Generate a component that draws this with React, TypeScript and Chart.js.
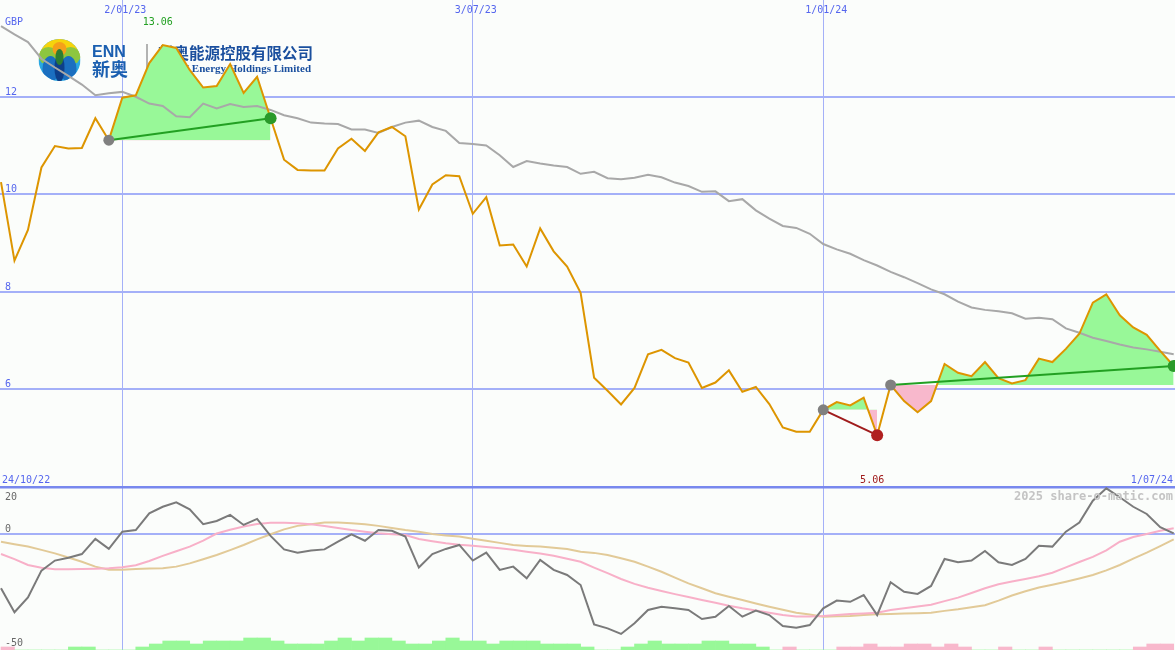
import React, { useEffect, useRef } from 'react';
import { Chart, registerables } from 'chart.js';

Chart.register(...registerables);

// ---------- data (weekly points, index 0 = first week) ----------
const PRICE = [
  10.25, 8.64, 9.27, 10.55, 10.99, 10.94, 10.95, 11.56, 11.11, 11.98,
  12.03, 12.69, 13.06, 13.0, 12.55, 12.19, 12.22, 12.67, 12.08, 12.41,
  11.56, 10.71, 10.5, 10.49, 10.49, 10.94, 11.14, 10.89, 11.27, 11.38,
  11.19, 9.69, 10.2, 10.39, 10.37, 9.6, 9.94, 8.95, 8.97, 8.52,
  9.3, 8.83, 8.52, 7.98, 6.24, 5.97, 5.69, 6.03, 6.72, 6.81,
  6.64, 6.55, 6.03, 6.14, 6.39, 5.95, 6.05, 5.7, 5.22, 5.13,
  5.13, 5.58, 5.74, 5.67, 5.83, 5.06, 6.09, 5.76, 5.53, 5.76,
  6.52, 6.34, 6.27, 6.56, 6.23, 6.12, 6.19, 6.63, 6.56, 6.83,
  7.14, 7.78, 7.95, 7.52, 7.27, 7.12, 6.79, 6.48,
];

const MOVING_AVG = [
  13.45, 13.28, 13.12, 12.78, 12.6, 12.43, 12.25, 12.03, 12.07, 12.1,
  12.0, 11.86, 11.81, 11.6, 11.58, 11.86, 11.76, 11.85, 11.79, 11.81,
  11.73, 11.62, 11.56, 11.47, 11.45, 11.44, 11.33, 11.33, 11.26, 11.38,
  11.47, 11.51, 11.38, 11.3, 11.05, 11.03, 11.0, 10.8, 10.56, 10.68,
  10.63, 10.59, 10.56, 10.42, 10.46, 10.33, 10.31, 10.34, 10.4, 10.35,
  10.24, 10.17, 10.05, 10.06, 9.86, 9.9, 9.67, 9.5, 9.35, 9.31,
  9.19, 8.98, 8.87, 8.78, 8.65, 8.54, 8.41, 8.3, 8.18, 8.05,
  7.95, 7.8, 7.68, 7.63, 7.6, 7.56, 7.45, 7.47, 7.44, 7.25,
  7.16, 7.06, 6.99, 6.92, 6.86, 6.82, 6.77, 6.72,
];

const OSC = [
  -23.5, -33.8, -27.4, -15.9, -11.6, -10.4, -8.8, -2.3, -6.6, 0.8,
  1.5, 8.7, 11.5, 13.4, 10.4, 4.0, 5.4, 8.0, 3.7, 6.3,
  -1.0, -6.8, -8.2, -7.3, -6.8, -3.5, -0.3, -3.1, 1.5, 1.2,
  -1.3, -14.6, -8.8, -6.6, -4.9, -11.6, -8.2, -15.6, -14.2, -19.2,
  -11.3, -15.6, -17.8, -22.1, -39.0, -40.7, -43.1, -38.5, -32.8, -31.4,
  -32.1, -32.8, -36.7, -35.7, -31.1, -35.7, -33.1, -35.0, -39.7, -40.4,
  -39.3, -32.1, -28.8, -29.3, -26.4, -35.0, -20.9, -25.0, -25.9, -22.5,
  -10.9, -12.3, -11.6, -7.5, -12.3, -13.5, -10.9, -5.2, -5.6, 0.8,
  4.7, 14.1, 19.4, 15.6, 11.5, 8.4, 2.7, 0.1,
];

const OSC_FAST = [
  -8.8, -11.0, -13.5, -14.7, -15.3, -15.3, -15.2, -15.1, -14.9, -14.5,
  -13.6, -11.8, -9.6, -7.6, -5.6, -3.0, 0.0, 1.6, 3.0, 4.1,
  4.6, 4.6, 4.4, 4.0, 3.2, 2.4, 1.5, 0.8, 0.1, -0.3,
  -0.6, -2.3, -3.3, -4.2, -4.8, -5.2, -5.8, -6.3, -7.0, -7.8,
  -8.6, -9.5, -10.8, -12.1, -14.6, -17.0, -19.5, -21.6, -23.3, -24.7,
  -26.0, -27.2, -28.5, -29.7, -31.0, -32.1, -33.0, -34.0, -35.0, -35.6,
  -35.6, -35.4, -35.0, -34.5, -34.3, -34.0, -32.8, -32.1, -31.3, -30.6,
  -29.0, -27.5, -25.5, -23.5, -21.8, -20.6, -19.5, -18.3, -16.8, -14.5,
  -12.2, -10.0, -7.2, -3.5, -1.5, -0.2, 1.2, 2.3,
];

const OSC_SLOW = [
  -3.5, -4.6, -5.6, -7.0, -8.5, -10.3, -12.1, -14.2, -15.5, -15.5,
  -15.2, -15.0, -14.9, -14.2, -12.8, -11.0, -9.2, -7.1, -4.9, -2.5,
  -0.3, 1.8, 3.3, 4.0, 4.7, 4.7, 4.4, 4.0, 3.3, 2.4,
  1.5, 0.8, -0.2, -0.8, -1.3, -2.2, -3.1, -4.0, -4.9, -5.3,
  -5.6, -6.1, -6.6, -7.8, -8.3, -9.2, -10.6, -12.1, -14.2, -16.4,
  -18.9, -21.4, -23.5, -25.6, -27.1, -28.5, -30.0, -31.4, -32.7, -34.0,
  -34.8, -35.7, -35.5, -35.4, -35.0, -34.7, -34.5, -34.3, -34.2, -34.0,
  -33.2, -32.5, -31.6, -30.8, -28.8, -26.6, -24.8, -23.2, -22.0, -20.7,
  -19.3, -17.8, -15.8, -13.5, -10.8, -8.2, -5.4, -2.5,
];

// signed bar levels for each week interval (positive = green, negative = pink)
const BARS = [
  -1, 0, 0, 0, 0, 1, 1, 0, 0, 0,
  1, 2, 3, 3, 2, 3, 3, 3, 4, 4,
  3, 2, 2, 2, 3, 4, 3, 4, 4, 3,
  2, 2, 3, 4, 3, 3, 2, 3, 3, 3,
  2, 2, 2, 1, 0, 0, 1, 2, 3, 2,
  2, 2, 3, 3, 2, 2, 1, 0, -1, 0,
  0, 0, -1, -1, -2, -1, -1, -2, -2, -1,
  -2, -1, 0, 0, -1, 0, 0, -1, 0, 0,
  0, 0, 0, 0, -1, -2, -2,
];

const GRID_WEEKS = [9, 35, 61];
const GRID_LABELS = ['2/01/23', '3/07/23', '1/01/24'];
const START_LABEL = '24/10/22';
const END_LABEL = '1/07/24';
const PRICE_TICKS = [6, 8, 10, 12];
const OSC_TICKS = [20, 0, -50];
const SIGNAL_START = [8, 61, 66];
const SIGNAL_END = [20, 65, 87];
const CURRENCY = 'GBP';
const WATERMARK = '2025 share-o-matic.com';
const LOGO_CN = '新奥能源控股有限公司';
const LOGO_EN = 'ENN Energy Holdings Limited';

// ---------- axis ranges ----------
const X_MIN = -0.074;
const X_MAX = 87.096;
const PRICE_AXIS_MIN = 0.656;
const PRICE_AXIS_MAX = 13.984;
const PANEL_DIVIDER = 4;
const OSC_AXIS_MIN = -50;
const OSC_AXIS_MAX = 229.1;
const BAR_AXIS_MAX = 650 / 3;

// ---------- styles ----------
const BG = '#fbfdfb';
const GRID = '#a4b0f8';
const SEPARATOR = '#7888ee';
const LABEL_BLUE = '#5566ee';
const PRICE_COLOR = '#dd9500';
const MA_COLOR = '#a8a8a8';
const OSC_COLOR = '#7a7a7a';
const OSC_FAST_COLOR = '#f8b0c8';
const OSC_SLOW_COLOR = '#e2ca98';
const FILL_GREEN = '#98f898';
const FILL_PINK = '#f8b8cc';
const TREND_GREEN = '#22a022';
const TREND_RED = '#a01c1c';
const DOT_GRAY = '#808080';
const DOT_GREEN = '#2a9a2a';
const DOT_RED = '#b02020';
const MONO = '"DejaVu Sans Mono", monospace';

function ellipse(ctx: any, x: number, y: number, rx: number, ry: number, color: string) {
  ctx.beginPath();
  ctx.ellipse(x, y, rx, ry, 0, 0, Math.PI * 2);
  ctx.fillStyle = color;
  ctx.fill();
}

function drawLogo(ctx: any) {
  const cx = 59.5, cy = 60, r = 21;
  ctx.save();
  ctx.beginPath();
  ctx.arc(cx, cy, r, 0, Math.PI * 2);
  ctx.clip();
  ctx.fillStyle = '#2aa8e2';
  ctx.fillRect(cx - r, cy - r, 2 * r, 2 * r);
  ctx.fillStyle = '#f6d40c';
  ctx.fillRect(cx - r, cy - r, 2 * r, r - 2);
  ellipse(ctx, cx - 11, cy - 4, 10, 9, '#8dc63f');
  ellipse(ctx, cx + 11, cy - 4, 10, 9, '#8dc63f');
  ellipse(ctx, cx, cy - 11, 7, 7, '#f5a01a');
  ellipse(ctx, cx - 9, cy + 9, 8, 13, '#1b6fc0');
  ellipse(ctx, cx + 9, cy + 9, 8, 13, '#1b6fc0');
  ellipse(ctx, cx, cy + 8, 5, 14, '#0d3f8a');
  ellipse(ctx, cx, cy - 3, 4, 8, '#2e7d32');
  ctx.restore();

  ctx.save();
  ctx.fillStyle = '#1a5fb0';
  ctx.textBaseline = 'alphabetic';
  ctx.textAlign = 'left';
  ctx.font = 'bold 16px "Liberation Sans", Arial, sans-serif';
  ctx.fillText('ENN', 92, 57);
  ctx.font = 'bold 18px "Noto Sans CJK SC", sans-serif';
  ctx.fillText('新奥', 92, 76);
  ctx.strokeStyle = '#9a9a9a';
  ctx.lineWidth = 1.5;
  ctx.beginPath();
  ctx.moveTo(147, 44);
  ctx.lineTo(147, 72);
  ctx.stroke();
  ctx.fillStyle = '#1a4f9e';
  ctx.textAlign = 'right';
  ctx.font = 'bold 15.5px "Noto Sans CJK SC", sans-serif';
  ctx.fillText(LOGO_CN, 313, 59);
  ctx.font = 'bold 11px "Liberation Serif", serif';
  ctx.fillText(LOGO_EN, 311, 72);
  ctx.restore();
}

const overlayPlugin = {
  id: 'overlay',
  beforeDraw(chart: any) {
    const { ctx, width, height } = chart;
    ctx.save();
    ctx.fillStyle = BG;
    ctx.fillRect(0, 0, width, height);
    ctx.restore();
  },
  beforeDatasetsDraw(chart: any) {
    drawLogo(chart.ctx);
  },
  afterDatasetsDraw(chart: any) {
    const { ctx, scales, width } = chart;
    const x = scales.x, y = scales.y, y2 = scales.y2;
    const divY = y.getPixelForValue(PANEL_DIVIDER);
    ctx.save();
    ctx.textBaseline = 'alphabetic';
    ctx.font = `10px ${MONO}`;
    ctx.fillStyle = LABEL_BLUE;
    ctx.textAlign = 'center';
    GRID_WEEKS.forEach((w, k) => ctx.fillText(GRID_LABELS[k], x.getPixelForValue(w) + 3, 13));
    ctx.textAlign = 'left';
    ctx.fillText(CURRENCY, 5, 25);
    PRICE_TICKS.forEach((v) => ctx.fillText(String(v), 5, y.getPixelForValue(v) - 2));
    ctx.fillText(START_LABEL, 2, divY - 4);
    ctx.textAlign = 'right';
    ctx.fillText(END_LABEL, width - 2, divY - 4);

    // max / min labels
    let maxI = 0, minI = 0;
    PRICE.forEach((p, i) => {
      if (p > PRICE[maxI]) maxI = i;
      if (p < PRICE[minI]) minI = i;
    });
    ctx.textAlign = 'center';
    ctx.fillStyle = TREND_GREEN;
    ctx.fillText(PRICE[maxI].toFixed(2), x.getPixelForValue(maxI) - 5, 25);
    ctx.fillStyle = TREND_RED;
    ctx.fillText(PRICE[minI].toFixed(2), x.getPixelForValue(minI) - 5, divY - 4);

    // oscillator labels
    ctx.textAlign = 'left';
    ctx.fillStyle = '#686868';
    const top = y2.getPixelForValue(OSC_TICKS[0]);
    ctx.fillText(String(OSC_TICKS[0]), 5, top + 13);
    ctx.fillText(String(OSC_TICKS[1]), 5, y2.getPixelForValue(OSC_TICKS[1]) - 2);
    ctx.fillText(String(OSC_TICKS[2]), 5, y2.getPixelForValue(OSC_TICKS[2]) - 4);

    ctx.font = `bold 12px ${MONO}`;
    ctx.fillStyle = '#c4c4c4';
    ctx.textAlign = 'right';
    ctx.fillText(WATERMARK, width - 2, top + 13);
    ctx.restore();
  },
};

function buildConfig(): any {
  const series = (arr: number[]) => arr.map((v, i) => ({ x: i, y: v }));
  const signals = SIGNAL_START.map((s, k) => {
    const e = SIGNAL_END[k];
    return { s, e, up: PRICE[e] >= PRICE[s] };
  });

  const trendSets = signals.map(({ s, e, up }) => ({
    type: 'line',
    data: [{ x: s, y: PRICE[s] }, { x: e, y: PRICE[e] }],
    yAxisID: 'y',
    borderColor: up ? TREND_GREEN : TREND_RED,
    borderWidth: 2,
    pointRadius: [5.5, 6],
    pointBackgroundColor: [DOT_GRAY, up ? DOT_GREEN : DOT_RED],
    pointBorderWidth: 0,
    fill: false,
  }));

  const fillSets = signals.map(({ s, e }) => ({
    type: 'line',
    data: PRICE.slice(s, e + 1).map((p, k) => ({ x: s + k, y: p })),
    yAxisID: 'y',
    borderColor: 'rgba(0,0,0,0)',
    borderWidth: 0,
    pointRadius: 0,
    fill: { target: { value: PRICE[s] }, above: FILL_GREEN, below: FILL_PINK },
  }));

  const lineStyle = (color: string, width: number) => ({
    borderColor: color,
    borderWidth: width,
    pointRadius: 0,
    fill: false,
    tension: 0,
  });

  return {
    type: 'line',
    data: {
      datasets: [
        ...trendSets,
        { type: 'line', data: series(PRICE), yAxisID: 'y', ...lineStyle(PRICE_COLOR, 2) },
        { type: 'line', data: series(MOVING_AVG), yAxisID: 'y', ...lineStyle(MA_COLOR, 2) },
        ...fillSets,
        { type: 'line', data: series(OSC), yAxisID: 'y2', ...lineStyle(OSC_COLOR, 2) },
        { type: 'line', data: series(OSC_FAST), yAxisID: 'y2', ...lineStyle(OSC_FAST_COLOR, 2) },
        { type: 'line', data: series(OSC_SLOW), yAxisID: 'y2', ...lineStyle(OSC_SLOW_COLOR, 2) },
        {
          type: 'bar',
          data: BARS.map((b, j) => ({ x: j + 0.5, y: Math.abs(b) })),
          yAxisID: 'yv',
          backgroundColor: BARS.map((b) => (b >= 0 ? FILL_GREEN : FILL_PINK)),
          borderWidth: 0,
          barPercentage: 1,
          categoryPercentage: 1,
        },
      ],
    },
    options: {
      responsive: false,
      animation: false,
      events: [],
      layout: { padding: 0, autoPadding: false },
      plugins: { legend: { display: false }, tooltip: { enabled: false } },
      scales: {
        x: {
          type: 'linear',
          min: X_MIN,
          max: X_MAX,
          offset: false,
          ticks: { display: false },
          border: { display: false },
          grid: { offset: false, drawTicks: false, color: GRID, lineWidth: 1 },
          afterBuildTicks: (s: any) => {
            s.ticks = GRID_WEEKS.map((v) => ({ value: v }));
          },
        },
        y: {
          type: 'linear',
          position: 'left',
          min: PRICE_AXIS_MIN,
          max: PRICE_AXIS_MAX,
          ticks: { display: false },
          border: { display: false },
          grid: {
            drawTicks: false,
            color: (c: any) => (c.tick && c.tick.value === PANEL_DIVIDER ? SEPARATOR : GRID),
            lineWidth: (c: any) => (c.tick && c.tick.value === PANEL_DIVIDER ? 2.5 : 2),
          },
          afterBuildTicks: (s: any) => {
            s.ticks = [PANEL_DIVIDER, ...PRICE_TICKS].map((v) => ({ value: v }));
          },
        },
        y2: {
          type: 'linear',
          position: 'right',
          min: OSC_AXIS_MIN,
          max: OSC_AXIS_MAX,
          ticks: { display: false },
          border: { display: false },
          grid: { drawTicks: false, color: GRID, lineWidth: 2 },
          afterBuildTicks: (s: any) => {
            s.ticks = [{ value: 0 }];
          },
        },
        yv: {
          type: 'linear',
          display: false,
          min: 0,
          max: BAR_AXIS_MAX,
        },
      },
    },
    plugins: [overlayPlugin],
  };
}

export default function App() {
  const ref = useRef<HTMLCanvasElement>(null);
  useEffect(() => {
    document.body.style.margin = '0';
    const canvas = ref.current;
    if (!canvas) return;
    const chart = new Chart(canvas, buildConfig());
    return () => chart.destroy();
  }, []);
  return <canvas ref={ref} width={1175} height={650} style={{ display: 'block' }} />;
}
